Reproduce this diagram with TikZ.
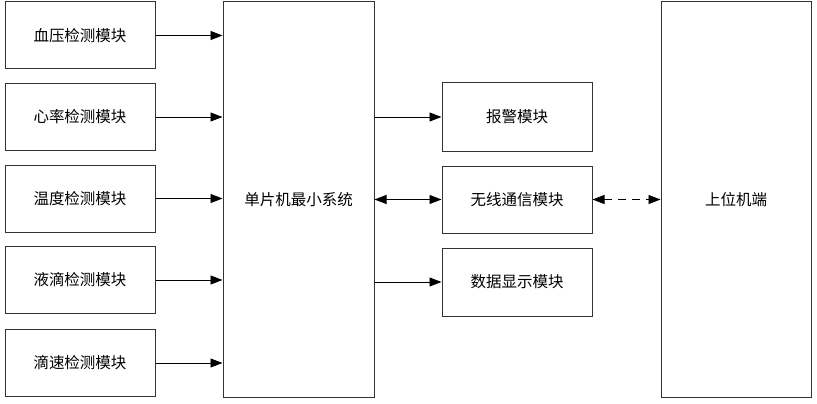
\documentclass[tikz,border=0pt]{standalone}
\usepackage{fontspec}
\setmainfont{Noto Sans CJK SC}
\usetikzlibrary{arrows.meta}
\definecolor{lc}{HTML}{333333}
\begin{document}
\begin{tikzpicture}[x=1pt,y=-1pt,
  box/.style={draw=lc,line width=1pt,fill=white,inner sep=0pt,font=\fontsize{15.5}{17}\selectfont},
  conn/.style={draw=black,line width=0.9pt,-{Triangle[length=12pt,width=9pt]}},
  bconn/.style={draw=black,line width=0.9pt,{Triangle[length=12pt,width=9pt]}-{Triangle[length=12pt,width=9pt]}}]
\useasboundingbox (0,0) rectangle (817,404);
\fill[white] (0,0) rectangle (817,404);
% left boxes
\node[box,minimum width=150pt,minimum height=67pt] (l1) at (80,35.5) {血压检测模块};
\node[box,minimum width=150pt,minimum height=67pt] (l2) at (80,117) {心率检测模块};
\node[box,minimum width=150pt,minimum height=67pt] (l3) at (80,198.5) {温度检测模块};
\node[box,minimum width=150pt,minimum height=67pt] (l4) at (80,280) {液滴检测模块};
\node[box,minimum width=150pt,minimum height=67pt] (l5) at (80,363) {滴速检测模块};
% center
\node[box,minimum width=151pt,minimum height=395pt] (mcu) at (298.5,199.5) {单片机最小系统};
% middle right
\node[box,minimum width=150pt,minimum height=68pt] (a) at (517,117) {报警模块};
\node[box,minimum width=150pt,minimum height=67pt] (b) at (517,199.5) {无线通信模块};
\node[box,minimum width=150pt,minimum height=68pt] (c) at (517,282) {数据显示模块};
% right
\node[box,minimum width=150pt,minimum height=395pt] (pc) at (736,199.5) {上位机端};
% connectors
\foreach \n in {l1,l2,l3,l4,l5}
  \draw[conn] (\n.east) -- (\n.east -| mcu.west);
\draw[conn] (mcu.east |- a.west) -- (a.west);
\draw[bconn] (mcu.east |- b.west) -- (b.west);
\draw[conn] (mcu.east |- c.west) -- (c.west);
\draw[bconn,dash pattern=on 8pt off 6pt] (b.east) -- (b.east -| pc.west);
\end{tikzpicture}
\end{document}
